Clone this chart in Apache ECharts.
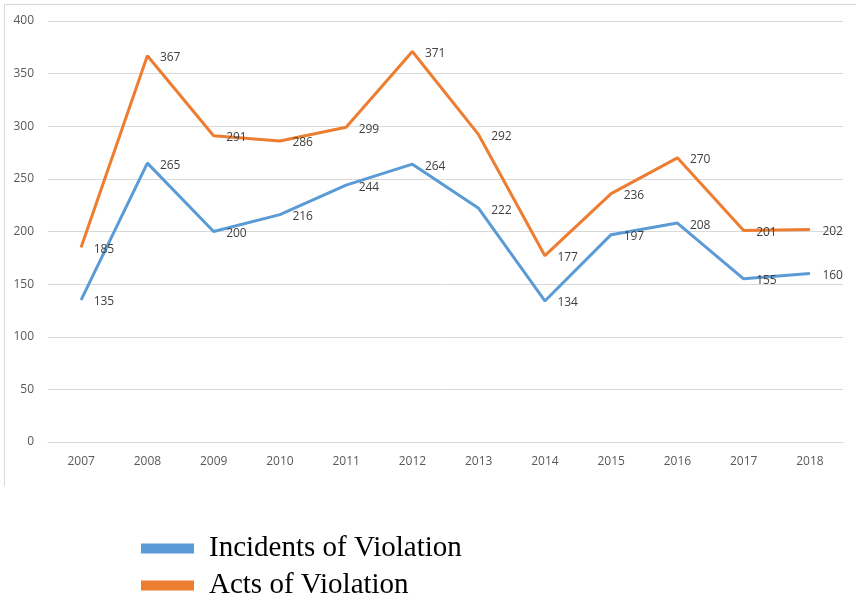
<!DOCTYPE html>
<html>
<head>
<meta charset="utf-8">
<script src="https://cdn.jsdelivr.net/npm/echarts@6/dist/echarts.min.js"></script>
<style>
  html, body { margin: 0; padding: 0; background: #ffffff; }
  #chart { width: 856px; height: 598px; }
</style>
</head>
<body>
<div id="chart"></div>
<script>
// Yearly figures, 2007–2018
var years = ['2007', '2008', '2009', '2010', '2011', '2012', '2013', '2014', '2015', '2016', '2017', '2018'];
var incidents = [135, 265, 200, 216, 244, 264, 222, 134, 197, 208, 155, 160];
var acts = [185, 367, 291, 286, 299, 371, 292, 177, 236, 270, 201, 202];
var seriesNames = ['Incidents of Violation', 'Acts of Violation'];

var chart = echarts.init(document.getElementById('chart'), null, { renderer: 'canvas' });

var labelStyle = {
  show: true,
  position: 'right',
  distance: 12,
  offset: [0, 2],
  color: '#404040',
  fontSize: 12,
  fontFamily: 'Open Sans'
};

function lineSeries(name, data, color) {
  return {
    name: name,
    type: 'line',
    data: data,
    symbol: 'circle',
    symbolSize: 1,
    itemStyle: { color: color },
    lineStyle: { color: color, width: 3 },
    label: labelStyle,
    emphasis: { disabled: true },
    animation: false
  };
}

// one legend block per series, stacked under the plot
function legendRow(name, top) {
  return {
    orient: 'vertical',
    left: 141,
    top: top,
    padding: 0,
    itemWidth: 53,
    itemHeight: 10,
    icon: 'rect',
    selectedMode: false,
    data: [name],
    textStyle: { color: '#000000', fontSize: 29, fontFamily: 'Liberation Serif', padding: [0, 0, 0, 10] }
  };
}

chart.setOption({
  backgroundColor: '#ffffff',
  animation: false,
  grid: { left: 48, right: 13, top: 21, bottom: 156, containLabel: false },
  xAxis: {
    type: 'category',
    data: years,
    boundaryGap: true,
    axisLine: { show: true, lineStyle: { color: '#d9d9d9', width: 1 } },
    axisTick: { show: false },
    axisLabel: { color: '#595959', fontSize: 12, fontFamily: 'Open Sans', margin: 14 }
  },
  yAxis: {
    type: 'value',
    min: 0,
    max: 400,
    interval: 50,
    axisLine: { show: false },
    axisTick: { show: false },
    axisLabel: { color: '#595959', fontSize: 12, fontFamily: 'Open Sans', margin: 14 },
    splitLine: { lineStyle: { color: '#d9d9d9', width: 1 } }
  },
  legend: [
    legendRow(seriesNames[0], 534),
    legendRow(seriesNames[1], 571)
  ],
  graphic: [
    { type: 'line', shape: { x1: 4, y1: 4.5, x2: 856, y2: 4.5 }, style: { stroke: '#d9d9d9', lineWidth: 1 }, silent: true },
    { type: 'line', shape: { x1: 4.5, y1: 4, x2: 4.5, y2: 486 }, style: { stroke: '#d9d9d9', lineWidth: 1 }, silent: true }
  ],
  series: [
    lineSeries(seriesNames[0], incidents, '#5b9bd5'),
    lineSeries(seriesNames[1], acts, '#ed7d31')
  ]
});
</script>
</body>
</html>
